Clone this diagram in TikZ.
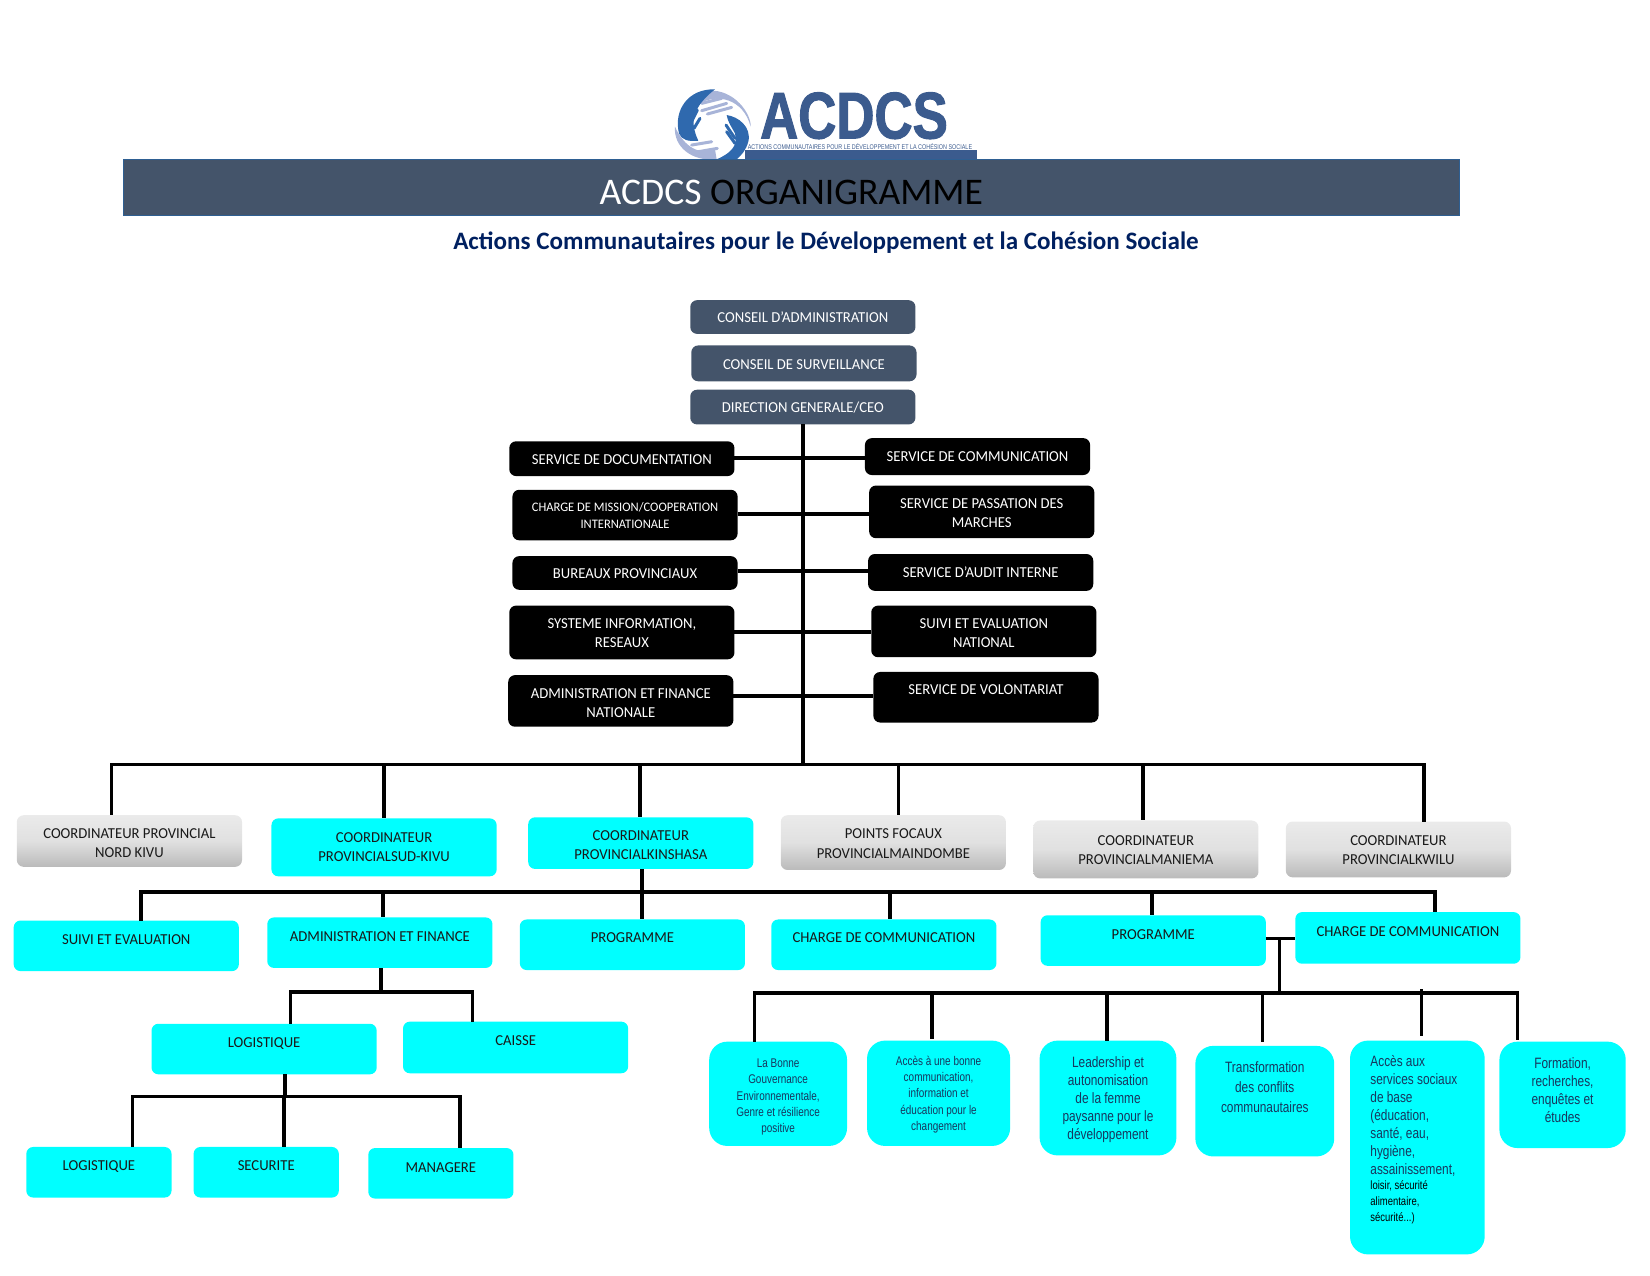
\documentclass[tikz,border=0pt]{standalone}
\usepackage{fontspec}
\setmainfont{Carlito}
\newfontfamily\thfont[FakeStretch=0.79]{Liberation Sans}
\newfontfamily\logofont[FakeStretch=0.8,FakeBold=1.5]{Liberation Sans}
\newfontfamily\bodyfont[FakeStretch=0.965]{Carlito}
\definecolor{slate}{HTML}{44546A}
\definecolor{bannerline}{HTML}{2E5F92}
\definecolor{cyanbox}{HTML}{00FFFF}
\definecolor{navy}{HTML}{002060}
\definecolor{logoblue}{HTML}{3B5B8E}
\definecolor{handblue}{HTML}{2F69AE}
\definecolor{handlight}{HTML}{A8B4D8}
\definecolor{thtext}{HTML}{17375E}
\newcommand{\smalltheme}[1]{{\fontsize{6}{7.9}\selectfont\color{black}#1}}
\tikzset{
  x=0.5261pt,y=-0.5266pt,
  boxbase/.style={inner sep=0pt,outer sep=0pt,rounded corners=3.4pt,align=center},
  slatebox/.style={boxbase,fill=slate,text=white,font=\bodyfont\fontsize{7.6}{9.6}\selectfont},
  blackbox/.style={boxbase,fill=black,text=white,font=\bodyfont\fontsize{7.6}{9.6}\selectfont},
  smallblack/.style={blackbox,font=\bodyfont\fontsize{6.5}{8.5}\selectfont},
  greybox/.style={boxbase,top color=black!8,bottom color=black!27,middle color=black!12,text=black!90,font=\bodyfont\fontsize{7.6}{9.6}\selectfont},
  cyanrole/.style={boxbase,fill=cyanbox,text=black!90,font=\bodyfont\fontsize{7.6}{9.6}\selectfont},
  themebox/.style={boxbase,fill=cyanbox,text=thtext,rounded corners=9pt,font=\thfont\fontsize{7.5}{9}\selectfont},
  themesmall/.style={themebox,font=\thfont\fontsize{6.3}{8.1}\selectfont},
  link/.style={draw=black,line width=1.8pt},
  darkfinger/.style={draw=handblue,line width=1.5pt,line cap=round},
  lightfinger/.style={draw=handlight,line width=1.5pt,line cap=round},
}
% name x1 y1 x2 y2 style dy text
\newcommand{\bx}[8]{%
  \node[#6,minimum width={(#4-#2)*0.5261pt},minimum height={(#5-#3)*0.5266pt}] (#1) at ({(#2+#4)/2},{(#3+#5)/2})
  {\raisebox{\dimexpr-#7\dimexpr0.5261pt\relax-3pt\relax}[0pt][0pt]{\setlength{\tabcolsep}{0pt}\begin{tabular}{c}#8\end{tabular}}};}
\begin{document}
\begin{tikzpicture}
\useasboundingbox (0,0) rectangle (1568.1,1210.55);
% logo
\begin{scope}[shift={(589.2,66.5)},x=0.16667pt,y=-0.16667pt]
  \fill[handlight] (240,100) .. controls (290,70) and (370,85) .. (392,170) .. controls (395,135) and (345,55) .. (262,62) .. controls (245,70) and (235,85) .. (240,100) -- cycle;
  \fill[handlight] (165,170) .. controls (160,230) and (215,275) .. (290,268) -- (285,238) .. controls (240,255) and (195,235) .. (165,170) -- cycle;
  \draw[lightfinger] (245,100) -- (305,85);
  \draw[lightfinger] (245,122) -- (320,100);
  \draw[lightfinger] (262,132) -- (335,112);
  \draw[lightfinger] (215,225) -- (275,215);
  \draw[lightfinger] (235,245) -- (292,235);
  \fill[handblue] (285,58) .. controls (205,55) and (160,120) .. (177,190) .. controls (185,210) and (205,215) .. (235,212) .. controls (215,170) and (205,120) .. (285,58) -- cycle;
  \draw[darkfinger] (212,160) -- (232,120);
  \draw[darkfinger] (222,175) -- (240,145);
  \fill[handblue] (320,135) .. controls (355,140) and (395,170) .. (385,215) .. controls (378,240) and (365,255) .. (350,268) -- (290,268) .. controls (330,250) and (355,230) .. (345,190) .. controls (335,170) and (325,160) .. (320,135) -- cycle;
  \draw[darkfinger] (318,165) -- (345,205);
  \draw[darkfinger] (320,185) -- (345,220);
  \fill[logoblue] (375,240) rectangle (1070,268);
  \node[inner sep=0pt,text=logoblue,font=\logofont\bfseries\fontsize{33}{33}\selectfont] (logoword) at (702,137) {ACDCS};
  \node[inner sep=0pt,text=logoblue,font=\thfont\fontsize{3.43}{4}\selectfont] (logotag) at (720,229) {ACTIONS COMMUNAUTAIRES POUR LE DÉVELOPPEMENT ET LA COHÉSION SOCIALE};
\end{scope}
% banner
\node[draw=bannerline,line width=0.6pt,fill=slate,inner sep=0pt,minimum width={1270*0.5261pt},minimum height={53*0.5266pt}] (banner) at (752,178) {};
\node[inner sep=0pt,font=\fontsize{18.8}{22}\selectfont,text=white] (bannertitle) at (752,183) {ACDCS \textcolor{black}{ORGANIGRAMME}};
\node[inner sep=0pt,font=\bfseries\fontsize{12.55}{15}\selectfont,text=navy] (subtitle) at (785,230.5) {Actions Communautaires pour le Développement et la Cohésion Sociale};
% governance
\bx{ca}{656}{285}{870}{317}{slatebox}{0}{CONSEIL D’ADMINISTRATION}
\bx{cs}{657}{328}{871}{362}{slatebox}{0}{CONSEIL DE SURVEILLANCE}
\bx{dg}{656}{370}{870}{403}{slatebox}{0}{DIRECTION GENERALE/CEO}
% services
\bx{doc}{484}{419}{698}{452}{blackbox}{0}{SERVICE DE DOCUMENTATION}
\bx{mission}{487}{465}{701}{513}{smallblack}{-1}{CHARGE DE MISSION/COOPERATION\\INTERNATIONALE}
\bx{bureaux}{487}{528}{701}{560}{blackbox}{0}{BUREAUX PROVINCIAUX}
\bx{systeme}{484}{575}{698}{626}{blackbox}{0}{SYSTEME INFORMATION,\\RESEAUX}
\bx{adminfin}{483}{641}{697}{690}{blackbox}{1}{ADMINISTRATION ET FINANCE\\NATIONALE}
\bx{comm}{822}{416}{1036}{451}{blackbox}{-1}{SERVICE DE COMMUNICATION}
\bx{passation}{826}{461}{1040}{511}{blackbox}{0}{SERVICE DE PASSATION DES\\MARCHES}
\bx{audit}{825}{526}{1039}{561}{blackbox}{-1}{SERVICE D’AUDIT INTERNE}
\bx{suivinat}{828}{575}{1042}{624}{blackbox}{1}{SUIVI ET EVALUATION\\NATIONAL}
\bx{volont}{830}{638}{1044}{686}{blackbox}{-8}{SERVICE DE VOLONTARIAT}
% coordinators
\bx{nk}{16}{774}{230}{823}{greybox}{1}{COORDINATEUR PROVINCIAL\\NORD KIVU}
\bx{sk}{258}{777}{472}{832}{cyanrole}{-1}{COORDINATEUR\\PROVINCIALSUD-KIVU}
\bx{kin}{502}{776}{716}{825}{cyanrole}{1}{COORDINATEUR\\PROVINCIALKINSHASA}
\bx{pf}{742}{774}{956}{826}{greybox}{0}{POINTS FOCAUX\\PROVINCIALMAINDOMBE}
\bx{man}{982}{779}{1196}{834}{greybox}{0}{COORDINATEUR\\PROVINCIALMANIEMA}
\bx{kw}{1222}{780}{1436}{833}{greybox}{0}{COORDINATEUR\\PROVINCIALKWILU}
% second row
\bx{suivi}{13}{874}{227}{922}{cyanrole}{-7}{SUIVI ET EVALUATION}
\bx{af}{254}{871}{468}{919}{cyanrole}{-7}{ADMINISTRATION ET FINANCE}
\bx{prog}{494}{873}{708}{921}{cyanrole}{-8}{PROGRAMME}
\bx{cc}{733}{873}{947}{921}{cyanrole}{-8}{CHARGE DE COMMUNICATION}
\bx{progb}{989}{869}{1203}{917}{cyanrole}{-7}{PROGRAMME}
\bx{ccb}{1231}{866}{1445}{915}{cyanrole}{-7}{CHARGE DE COMMUNICATION}
% third row
\bx{log}{144}{972}{358}{1020}{cyanrole}{-7}{LOGISTIQUE}
\bx{caisse}{383}{970}{597}{1019}{cyanrole}{-7}{CAISSE}
\bx{logb}{25}{1089}{163}{1137}{cyanrole}{-7}{LOGISTIQUE}
\bx{secu}{184}{1089}{322}{1137}{cyanrole}{-7}{SECURITE}
\bx{manag}{350}{1090}{488}{1138}{cyanrole}{-6}{MANAGERE}
% themes
\bx{tha}{674}{989}{805}{1088}{themesmall}{0}{La Bonne\\Gouvernance\\Environnementale,\\Genre et résilience\\positive}
\bx{thb}{824}{988}{960}{1088}{themesmall}{-1.5}{Accès à une bonne\\communication,\\information et\\éducation pour le\\changement}
\bx{thc}{988}{988}{1118}{1097}{themebox}{-1}{Leadership et\\autonomisation\\de la femme\\paysanne pour le\\développement}
\bx{thd}{1136}{993}{1268}{1098}{themebox}{-14.5}{Transformation\\[1pt]des conflits\\[1pt]communautaires}
\node[themebox,minimum width={128*0.5261pt},minimum height={203*0.5266pt}] (the) at (1347,1089.5) {};
\node[inner sep=0pt,anchor=north west,text=thtext,font=\thfont\fontsize{7.5}{9}\selectfont] (thetext) at (1302,1000)
  {\setlength{\tabcolsep}{0pt}\begin{tabular}{l}Accès aux\\services sociaux\\de base\\(éducation,\\santé, eau,\\hygiène,\\assainissement,\\[-1.2pt]\smalltheme{loisir, sécurité}\\[-1.2pt]\smalltheme{alimentaire,}\\[-1.2pt]\smalltheme{sécurité...)}\end{tabular}};
\bx{thf}{1425}{989}{1545}{1090}{themebox}{-5}{Formation,\\recherches,\\enquêtes et\\études}
% trunk and side branches
\coordinate (bus) at (763,726);
\draw[link] (dg.south) -- (dg.south |- bus);
\coordinate (ba) at (763,435); \coordinate (bb) at (763,488); \coordinate (bc) at (763,542); \coordinate (bd) at (763,600); \coordinate (be) at (763,661);
\draw[link] (doc.east |- ba) -- (comm.west |- ba);
\draw[link] (mission.east |- bb) -- (passation.west |- bb);
\draw[link] (bureaux.east |- bc) -- (audit.west |- bc);
\draw[link] (systeme.east |- bd) -- (suivinat.west |- bd);
\draw[link] (adminfin.east |- be) -- (volont.west |- be);
% top bus
\coordinate (da) at (106,726); \coordinate (db) at (365,726); \coordinate (dc) at (608,726); \coordinate (dd) at (854,726); \coordinate (de) at (1086,726); \coordinate (df) at (1353.5,726);
\draw[link,line cap=rect] (da) -- (df);
\draw[link] (da) -- (da |- nk.north);
\draw[link] (db) -- (db |- sk.north);
\draw[link] (dc) -- (dc |- kin.north);
\draw[link] (dd) -- (dd |- pf.north);
\draw[link] (de) -- (de |- man.north);
\draw[link] (df) -- (df |- kw.north);
% second bus
\coordinate (sa) at (134,847); \coordinate (sb) at (364,847); \coordinate (sc) at (610,847); \coordinate (sd) at (846,847); \coordinate (se) at (1095,847); \coordinate (sf) at (1364,847);
\draw[link,line cap=rect] (sa) -- (sf);
\draw[link] (sc |- kin.south) -- (sc |- prog.north);
\draw[link] (sa) -- (sa |- suivi.north);
\draw[link] (sb) -- (sb |- af.north);
\draw[link] (sd) -- (sd |- cc.north);
\draw[link] (se) -- (se |- progb.north);
\draw[link] (sf) -- (sf |- ccb.north);
% admin branch
\coordinate (aa) at (362,942); \coordinate (al) at (276,942); \coordinate (ar) at (449,942);
\draw[link] (aa |- af.south) -- (aa);
\draw[link,line cap=rect] (al) -- (ar);
\draw[link] (al) -- (al |- log.north);
\draw[link] (ar) -- (ar |- caisse.north);
% logistics branch
\coordinate (la) at (271,1041); \coordinate (ll) at (126,1041); \coordinate (lm) at (270,1041); \coordinate (lr) at (437,1041);
\draw[link] (la |- log.south) -- (la);
\draw[link,line cap=rect] (ll) -- (lr);
\draw[link] (ll) -- (ll |- logb.north);
\draw[link] (lm) -- (lm |- secu.north);
\draw[link] (lr) -- (lr |- manag.north);
% themes branch
\coordinate (tj) at (1216,891); \coordinate (tm) at (1216,943); \coordinate (ta) at (717,943); \coordinate (tb) at (886,943); \coordinate (tc) at (1052,943); \coordinate (td) at (1200,943); \coordinate (te) at (1351,939); \coordinate (tf) at (1442,943);
\draw[link] (progb.east |- tj) -- (ccb.west |- tj);
\draw[link] (tj) -- (tm);
\draw[link,line cap=rect] (ta) -- (tf);
\draw[link] (ta) -- (ta |- tha.north);
\draw[link] (tb) -- +(0,43);
\draw[link] (tc) -- (tc |- thc.north);
\draw[link] (td) -- +(0,46);
\draw[link] (te) -- +(0,45);
\draw[link] (tf) -- +(0,44);
\end{tikzpicture}
\end{document}
